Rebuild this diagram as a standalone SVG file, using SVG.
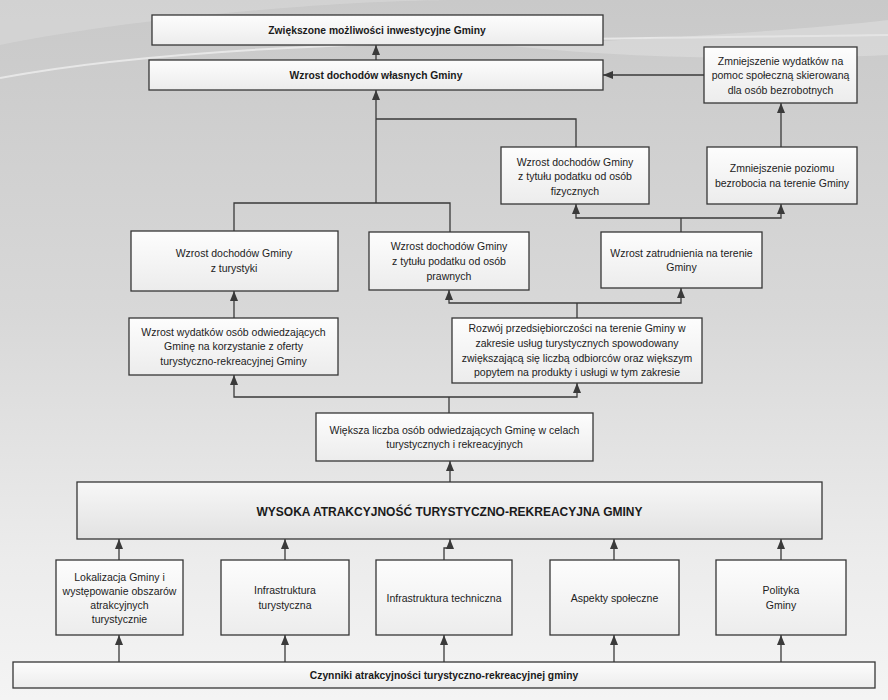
<svg xmlns="http://www.w3.org/2000/svg" width="888" height="700" viewBox="0 0 888 700">
<defs>
<linearGradient id="bg" x1="0" y1="0" x2="0" y2="1">
<stop offset="0" stop-color="#c9c9c9"/>
<stop offset="0.45" stop-color="#d8d8d8"/>
<stop offset="0.8" stop-color="#ececec"/>
<stop offset="1" stop-color="#f4f4f4"/>
</linearGradient>
<linearGradient id="box" x1="0" y1="0" x2="0" y2="1">
<stop offset="0" stop-color="#fdfdfd"/>
<stop offset="1" stop-color="#ececec"/>
</linearGradient>
<linearGradient id="big" x1="0" y1="0" x2="0" y2="1">
<stop offset="0" stop-color="#f7f7f7"/>
<stop offset="1" stop-color="#e2e2e2"/>
</linearGradient>
<marker id="arr" markerUnits="userSpaceOnUse" markerWidth="10" markerHeight="10" viewBox="0 0 10 10" refX="10" refY="5" orient="auto">
<path d="M0,1 L10,5 L0,9 Z" fill="#3a3a3a"/>
</marker>
<style>
.b{fill:url(#box);stroke:#363636;stroke-width:1.3}
.t{font-family:"Liberation Sans",Arial,sans-serif;font-size:10.5px;fill:#222;text-anchor:middle}
.tb{font-family:"Liberation Sans",Arial,sans-serif;font-size:10.3px;font-weight:bold;fill:#1a1a1a;text-anchor:middle}
.c{fill:none;stroke:#3a3a3a;stroke-width:1.3}
.a{marker-end:url(#arr)}
</style>
</defs>
<rect x="0" y="0" width="888" height="700" fill="url(#bg)"/>
<path d="M0,45 C150,15 350,0 460,0 L0,0 Z" fill="#d8d8d8" opacity="0.6"/>
<path d="M0,78 C200,40 500,40 888,35" fill="none" stroke="#eeeeee" stroke-width="2" opacity="0.8"/>
<path d="M500,45 C650,40 800,30 888,20 L888,55 C780,60 640,60 500,45 Z" fill="#e2e2e2" opacity="0.5"/>

<g id="connectors">
<path class="c a" d="M376,60 V45"/>
<path class="c" d="M234,231 V203 H450 V232"/>
<path class="c a" d="M376,203 V90"/>
<path class="c" d="M376,119 H576 V147"/>
<path class="c a" d="M704,75 H603"/>
<path class="c a" d="M781,147 V103"/>
<path class="c" d="M681,232 V218"/>
<path class="c a" d="M681,218 H576 V204"/>
<path class="c a" d="M681,218 H781 V204"/>
<path class="c a" d="M234,318 V291"/>
<path class="c" d="M577,318 V303"/>
<path class="c a" d="M577,303 H449 V290"/>
<path class="c a" d="M577,303 H681 V288"/>
<path class="c" d="M449,413 V397"/>
<path class="c a" d="M449,397 H234 V375"/>
<path class="c a" d="M449,397 H577 V383"/>
<path class="c a" d="M450,482 V461"/>
<path class="c a" d="M119,560 V539"/>
<path class="c a" d="M285,560 V539"/>
<path class="c a" d="M444,560 V548 H450 V539"/>
<path class="c a" d="M614,560 V539"/>
<path class="c a" d="M781,560 V539"/>
<path class="c a" d="M119,662 V635"/>
<path class="c a" d="M285,662 V635"/>
<path class="c a" d="M444,662 V635"/>
<path class="c a" d="M614,662 V635"/>
<path class="c a" d="M781,662 V635"/>
</g>

<g id="n_invest"><rect class="b" x="152" y="15" width="451" height="30"/><text class="tb" x="377" y="34">Zwiększone możliwości inwestycyjne Gminy</text></g>
<g id="n_wlasne"><rect class="b" x="149" y="60" width="454" height="30"/><text class="tb" x="376" y="79">Wzrost dochodów własnych Gminy</text></g>
<g id="n_pomoc"><rect class="b" x="704" y="47" width="153" height="56"/><text class="t" x="780.5" y="64.5">Zmniejszenie wydatków na</text><text class="t" x="780.5" y="79">pomoc społeczną skierowaną</text><text class="t" x="780.5" y="94">dla osób bezrobotnych</text></g>
<g id="n_fiz"><rect class="b" x="501" y="147" width="148" height="57"/><text class="t" x="575" y="165.5">Wzrost dochodów Gminy</text><text class="t" x="575" y="180">z tytułu podatku od osób</text><text class="t" x="575" y="195">fizycznych</text></g>
<g id="n_bezrob"><rect class="b" x="707" y="147" width="150" height="57"/><text class="t" x="782" y="172">Zmniejszenie poziomu</text><text class="t" x="782" y="187">bezrobocia na terenie Gminy</text></g>
<g id="n_tur"><rect class="b" x="131" y="231" width="207" height="60"/><text class="t" x="234" y="257">Wzrost dochodów Gminy</text><text class="t" x="234" y="272">z turystyki</text></g>
<g id="n_praw"><rect class="b" x="369" y="232" width="160" height="58"/><text class="t" x="449" y="250">Wzrost dochodów Gminy</text><text class="t" x="449" y="265">z tytułu podatku od osób</text><text class="t" x="449" y="279.5">prawnych</text></g>
<g id="n_zatr"><rect class="b" x="601" y="232" width="161" height="56"/><text class="t" x="681.5" y="257">Wzrost zatrudnienia na terenie</text><text class="t" x="681.5" y="271">Gminy</text></g>
<g id="n_wyd"><rect class="b" x="129" y="318" width="209" height="57"/><text class="t" x="233.5" y="335.5">Wzrost wydatków osób odwiedzających</text><text class="t" x="233.5" y="350">Gminę na korzystanie z oferty</text><text class="t" x="233.5" y="364.5">turystyczno-rekreacyjnej Gminy</text></g>
<g id="n_rozw"><rect class="b" x="452" y="318" width="250" height="65"/><text class="t" x="577" y="332">Rozwój przedsiębiorczości na terenie Gminy w</text><text class="t" x="577" y="347">zakresie usług turystycznych spowodowany</text><text class="t" x="577" y="361.5">zwiększającą się liczbą odbiorców oraz większym</text><text class="t" x="577" y="376">popytem na produkty i usługi w tym zakresie</text></g>
<g id="n_wieksza"><rect class="b" x="316" y="413" width="277" height="48"/><text class="t" x="454.5" y="434">Większa liczba osób odwiedzających Gminę w celach</text><text class="t" x="454.5" y="448">turystycznych i rekreacyjnych</text></g>
<g id="n_wysoka"><rect x="77" y="482" width="745" height="57" fill="url(#big)" stroke="#363636" stroke-width="1.3"/><text class="tb" x="449.5" y="515.5" style="font-size:12px">WYSOKA ATRAKCYJNOŚĆ TURYSTYCZNO-REKREACYJNA GMINY</text></g>
<g id="n_lok"><rect class="b" x="56" y="560" width="127" height="75"/><text class="t" x="119.5" y="580.5">Lokalizacja Gminy i</text><text class="t" x="119.5" y="595">występowanie obszarów</text><text class="t" x="119.5" y="609">atrakcyjnych</text><text class="t" x="119.5" y="623">turystycznie</text></g>
<g id="n_inftur"><rect class="b" x="221" y="560" width="128" height="75"/><text class="t" x="285" y="594">Infrastruktura</text><text class="t" x="285" y="608.5">turystyczna</text></g>
<g id="n_inftech"><rect class="b" x="376" y="560" width="136" height="75"/><text class="t" x="444" y="601.5">Infrastruktura techniczna</text></g>
<g id="n_asp"><rect class="b" x="550" y="560" width="129" height="75"/><text class="t" x="614.5" y="601.5">Aspekty społeczne</text></g>
<g id="n_pol"><rect class="b" x="716" y="560" width="130" height="75"/><text class="t" x="781" y="594">Polityka</text><text class="t" x="781" y="608.5">Gminy</text></g>
<g id="n_czynniki"><rect class="b" x="13" y="662" width="862" height="26"/><text class="tb" x="444" y="679">Czynniki atrakcyjności turystyczno-rekreacyjnej gminy</text></g>
</svg>
